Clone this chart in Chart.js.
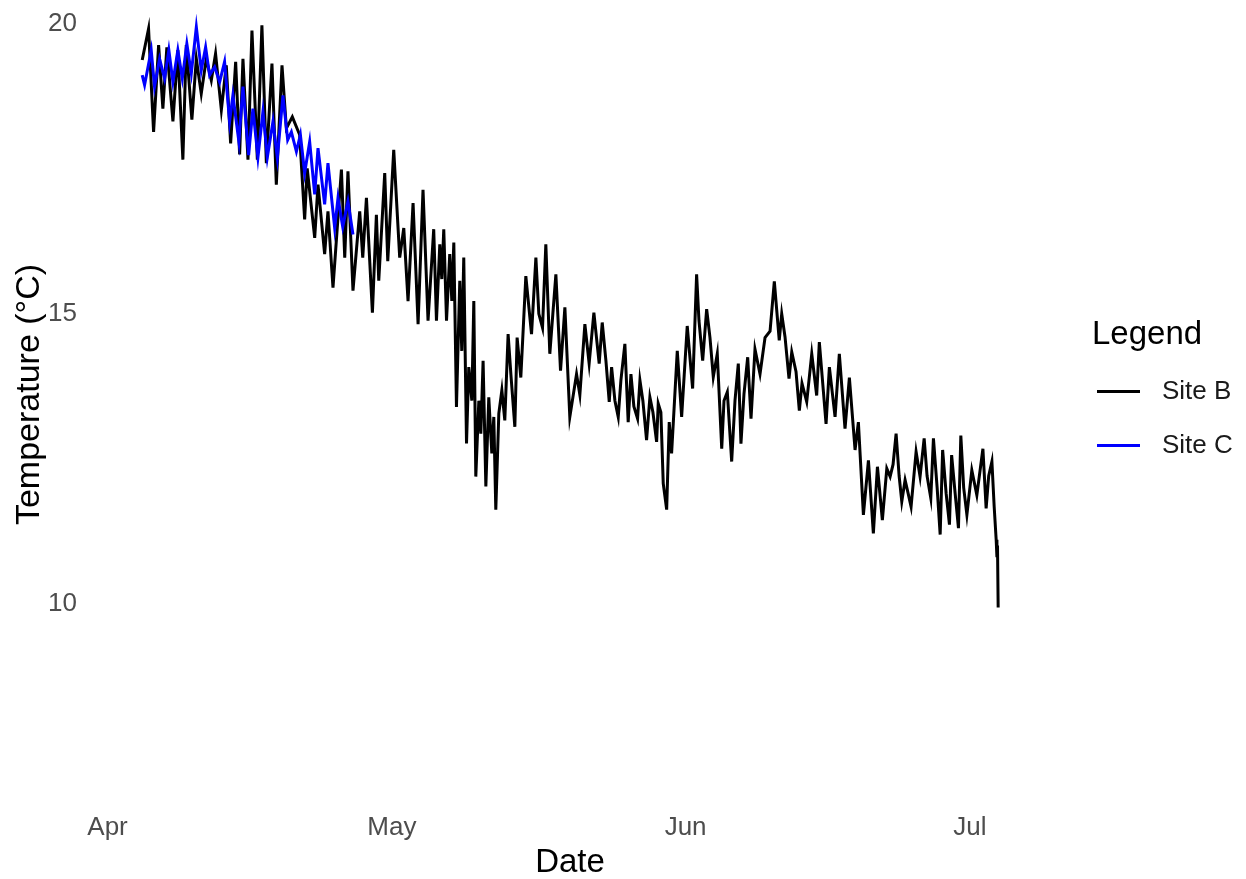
<!DOCTYPE html>
<html>
<head>
<meta charset="utf-8">
<title>Temperature</title>
<script src="https://cdn.jsdelivr.net/npm/chart.js@4.4.0/dist/chart.umd.min.js"></script>
<style>
  html, body { margin: 0; padding: 0; background: #fff; }
</style>
</head>
<body>
<canvas id="grafico" width="1246" height="879"></canvas>
<script>
// days counted from 1 April, temperature in °C
const siteB = [
  [3.66,19.38],[4.33,19.92],[4.86,18.14],[5.39,19.64],[5.84,18.54],[6.26,19.60],[6.90,18.32],[7.42,19.55],
  [7.95,17.66],[8.31,19.64],[8.90,18.35],[9.37,19.40],[9.89,18.80],[10.42,19.40],[10.95,19.03],[11.40,19.49],
  [12.01,18.52],[12.53,19.29],[12.99,17.94],[13.52,19.35],[13.94,17.75],[14.29,19.40],[14.82,17.66],[15.24,19.89],
  [15.81,17.66],[16.29,19.98],[16.76,17.60],[17.35,19.32],[17.81,17.23],[18.41,19.29],[18.87,18.20],[19.50,18.40],
  [20.27,18.09],[20.80,16.63],[21.07,17.51],[21.86,16.31],[22.21,17.23],[22.91,16.03],[23.26,16.77],[23.79,15.45],
  [24.68,17.49],[25.03,15.97],[25.37,17.46],[25.90,15.40],[26.61,16.77],[26.93,15.97],[27.32,17.00],[27.95,15.02],
  [28.37,16.71],[28.62,15.57],[29.25,17.43],[29.57,15.91],[30.20,17.83],[30.83,15.97],[31.26,16.48],[31.71,15.22],
  [32.24,16.91],[32.77,14.82],[33.29,17.14],[33.82,14.88],[34.42,16.46],[34.71,14.88],[35.06,16.20],[35.27,15.60],
  [35.48,16.46],[35.77,14.88],[36.11,16.03],[36.33,15.22],[36.54,16.23],[36.82,13.39],[37.17,15.57],[37.38,14.36],
  [37.59,15.97],[37.88,12.76],[38.12,14.08],[38.44,13.50],[38.65,15.22],[38.86,12.19],[39.18,13.50],[39.39,12.93],
  [39.63,14.19],[39.92,12.02],[40.23,13.56],[40.55,12.59],[40.76,13.22],[40.97,11.62],[41.29,13.28],[41.61,13.68],
  [41.92,13.16],[42.27,14.65],[42.56,13.96],[42.98,13.05],[43.22,14.59],[43.61,13.90],[44.14,15.65],[44.74,14.65],
  [45.20,15.97],[45.51,15.00],[45.90,14.76],[46.25,16.20],[46.67,14.31],[46.99,15.00],[47.31,15.68],[47.80,14.02],
  [48.26,15.11],[48.78,13.22],[49.49,13.96],[49.84,13.60],[50.37,14.82],[50.82,14.14],[51.32,15.02],[51.88,14.14],
  [52.20,14.85],[52.59,14.19],[52.94,13.48],[53.19,14.08],[53.54,13.50],[53.89,13.22],[54.17,13.85],[54.59,14.48],
  [54.94,13.13],[55.23,13.96],[55.54,13.40],[55.93,13.19],[56.18,13.85],[56.49,13.50],[56.88,12.82],[57.23,13.56],
  [57.55,13.30],[57.94,12.79],[58.11,13.45],[58.39,13.30],[58.64,12.07],[59.00,11.62],[59.27,13.13],[59.52,12.59],
  [60.12,14.36],[60.58,13.22],[61.17,14.79],[61.74,13.71],[62.16,15.68],[62.41,14.88],[62.80,14.19],[63.22,15.08],
  [63.57,14.59],[63.92,13.91],[64.34,14.31],[64.81,12.67],[65.05,13.50],[65.40,13.65],[65.86,12.45],[66.21,13.50],
  [66.56,14.14],[66.84,12.76],[67.16,13.62],[67.55,14.25],[67.90,13.19],[68.32,14.39],[68.85,13.96],[69.38,14.59],
  [69.91,14.70],[70.36,15.56],[70.88,14.54],[71.14,15.00],[71.49,14.60],[71.91,13.88],[72.20,14.34],[72.65,14.00],
  [73.00,13.33],[73.28,13.80],[73.78,13.48],[74.31,14.31],[74.83,13.59],[75.11,14.51],[75.82,13.10],[76.17,14.08],
  [76.77,13.22],[77.22,14.31],[77.82,13.02],[78.28,13.90],[78.88,12.65],[79.23,13.13],[79.76,11.53],[80.29,12.47],
  [80.81,11.21],[81.24,12.36],[81.76,11.44],[82.23,12.33],[82.58,12.19],[82.89,12.40],[83.21,12.93],[83.53,12.20],
  [83.81,11.76],[84.16,12.13],[84.48,11.90],[84.79,11.67],[85.32,12.62],[85.74,12.19],[86.17,12.85],[86.48,12.20],
  [86.87,11.82],[87.15,12.85],[87.54,12.00],[87.86,11.19],[88.12,12.65],[88.49,11.90],[88.84,11.36],[89.07,12.56],
  [89.44,11.90],[89.79,11.30],[90.04,12.90],[90.34,12.00],[90.68,11.53],[91.20,12.30],[91.73,11.87],[92.37,12.67],
  [92.71,11.64],[92.98,12.20],[93.32,12.45],[93.56,11.67],[93.77,11.10],[93.85,10.80],[93.91,11.00],[93.98,9.93]
];

const siteC = [
  [3.66,19.12],[3.91,18.95],[4.61,19.55],[4.96,18.92],[5.49,19.40],[6.02,19.06],[6.47,19.55],[6.90,19.00],
  [7.42,19.55],[7.89,19.06],[8.37,19.66],[8.84,19.15],[9.37,19.95],[9.89,19.20],[10.35,19.60],[10.77,19.12],
  [11.30,19.26],[11.83,19.00],[12.35,19.35],[12.88,18.32],[13.23,18.77],[13.86,17.97],[14.29,18.92],[14.89,17.74],
  [15.34,18.54],[15.87,17.70],[16.40,18.49],[16.86,17.70],[17.46,18.32],[17.92,17.69],[18.51,18.77],[19.01,18.00],
  [19.40,18.14],[19.93,17.80],[20.35,18.09],[20.80,17.43],[21.33,17.97],[21.86,17.06],[22.21,17.86],[22.91,16.89],
  [23.26,17.60],[23.97,16.48],[24.32,17.00],[24.82,16.50],[25.37,16.94],[25.90,16.37]
];

const mesesDia = [0, 30, 61, 91];
const mesesNombre = ['Apr', 'May', 'Jun', 'Jul'];
const tempTicks = [10, 15, 20];

const FUENTE = '"Liberation Sans", Arial, sans-serif';

const aPuntos = (serie) => serie.map(([d, t]) => ({ x: d, y: t }));

// título del eje Y y leyenda, dibujados a mano
const rotulos = {
  id: 'rotulos',
  afterDraw(chart) {
    const { ctx, chartArea } = chart;
    const mid = (chartArea.top + chartArea.bottom) / 2;

    ctx.save();
    ctx.translate(30, mid - 12);
    ctx.rotate(-Math.PI / 2);
    ctx.textAlign = 'center';
    ctx.textBaseline = 'middle';
    ctx.fillStyle = '#000';
    ctx.font = '34px ' + FUENTE;
    ctx.fillText('Temperature (°C)', 0, 0);
    ctx.restore();

    const x0 = chartArea.right + 51;
    ctx.save();
    ctx.textBaseline = 'middle';
    ctx.fillStyle = '#000';
    ctx.font = '33px ' + FUENTE;
    ctx.fillText('Legend', x0, mid - 72);
    ctx.font = '26px ' + FUENTE;
    chart.data.datasets.forEach((ds, i) => {
      const y = mid - 15 + i * 54;
      ctx.strokeStyle = ds.borderColor;
      ctx.lineWidth = 3;
      ctx.beginPath();
      ctx.moveTo(x0 + 5, y);
      ctx.lineTo(x0 + 48, y);
      ctx.stroke();
      ctx.fillStyle = '#1a1a1a';
      ctx.fillText(ds.label, x0 + 70, y);
    });
    ctx.restore();
  }
};

const ctx = document.getElementById('grafico').getContext('2d');
const grafico = new Chart(ctx, {
  type: 'line',
  data: {
    datasets: [
      {
        label: 'Site B',
        data: aPuntos(siteB),
        borderColor: '#000000',
        borderWidth: 3,
        pointRadius: 0,
        tension: 0,
        order: 2
      },
      {
        label: 'Site C',
        data: aPuntos(siteC),
        borderColor: '#0000FF',
        borderWidth: 3,
        pointRadius: 0,
        tension: 0,
        order: 1
      }
    ]
  },
  options: {
    responsive: false,
    animation: false,
    layout: { padding: { left: 0, top: 5, right: 205, bottom: 0 } },
    plugins: {
      legend: { display: false },
      tooltip: { enabled: false }
    },
    scales: {
      x: {
        type: 'linear',
        min: -0.9,
        max: 98.5,
        grid: { display: false, drawTicks: false },
        border: { display: false },
        afterBuildTicks: (scale) => {
          scale.ticks = mesesDia.map((v) => ({ value: v }));
        },
        afterFit: (scale) => {
          scale.height = 71;
          scale.paddingLeft = 0;
          scale.paddingRight = 0;
        },
        ticks: {
          padding: 4,
          color: '#4d4d4d',
          font: { family: FUENTE, size: 26 },
          callback: (v) => mesesNombre[mesesDia.indexOf(v)]
        },
        title: {
          display: true,
          text: 'Date',
          color: '#000',
          font: { family: FUENTE, size: 33, lineHeight: 1 },
          padding: { top: 0, bottom: 0 }
        }
      },
      y: {
        min: 6.47,
        max: 20.33,
        grid: { display: false, drawTicks: false },
        border: { display: false },
        afterBuildTicks: (scale) => {
          scale.ticks = tempTicks.map((v) => ({ value: v }));
        },
        afterFit: (scale) => {
          scale.width = 99;
          scale.paddingTop = 0;
          scale.paddingBottom = 0;
        },
        ticks: {
          padding: 22,
          color: '#4d4d4d',
          font: { family: FUENTE, size: 26 }
        }
      }
    }
  },
  plugins: [rotulos]
});
</script>
</body>
</html>
